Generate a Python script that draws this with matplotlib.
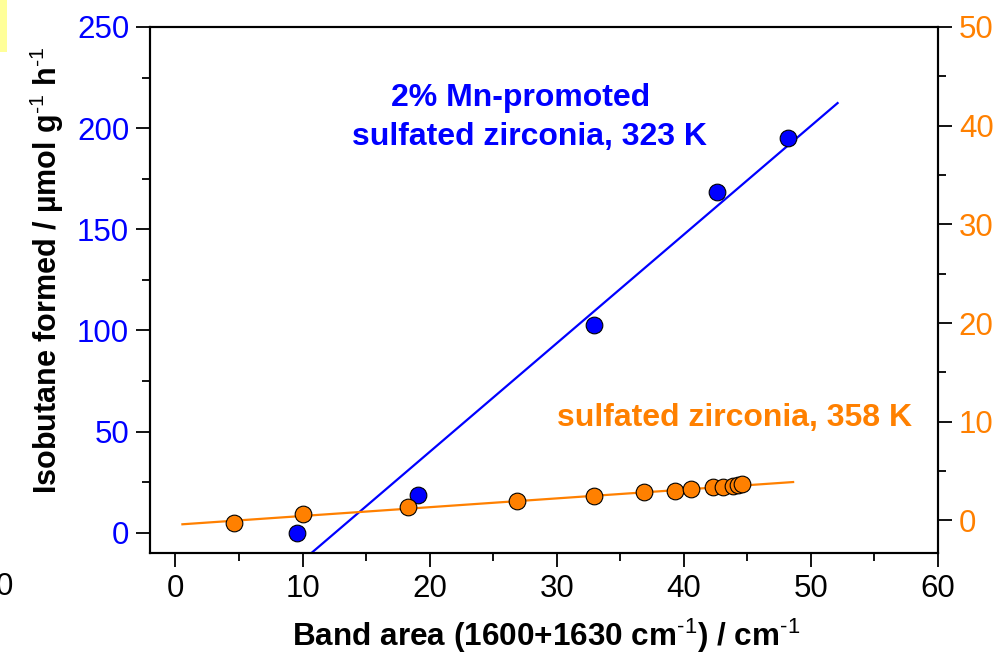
import numpy as np
import matplotlib
matplotlib.use("Agg")
import matplotlib.pyplot as plt
from matplotlib.ticker import MultipleLocator
from matplotlib.patches import Rectangle

plt.rcParams['font.family'] = ['Liberation Sans', 'DejaVu Sans']
plt.rcParams['mathtext.fontset'] = 'custom'
plt.rcParams['mathtext.rm'] = 'Liberation Sans'
plt.rcParams['mathtext.bf'] = 'Liberation Sans:bold'
plt.rcParams['mathtext.default'] = 'bf'

# Mn-promoted sulfated zirconia, 323 K (left axis)
mn_area = [9.6, 19.1, 32.9, 42.6, 48.2]
mn_rate = [0.0, 18.8, 102.5, 168.3, 195.0]
mn_fit_x = [10.7, 52.1]
mn_fit_y = [-10.0, 212.4]

# sulfated zirconia, 358 K (right axis)
sz_area = [4.6, 10.0, 18.3, 26.9, 32.9, 36.9, 39.3, 40.6, 42.3, 43.1, 43.9, 44.3, 44.6]
sz_rate = [-0.29, 0.62, 1.33, 2.00, 2.47, 2.85, 3.01, 3.18, 3.35, 3.42, 3.52, 3.59, 3.66]
sz_fit_x = [0.55, 48.6]
sz_fit_y = [-0.39, 3.89]

BLUE = '#0000FF'
ORANGE = '#FF8000'
W, H = 994, 658


def fx(px):
    return px / W


def fy(py):
    return 1 - py / H


fig = plt.figure(figsize=(9.94, 6.58), dpi=100)
ax = fig.add_axes([fx(150), fy(553), (938 - 150) / W, (553 - 27) / H])
ax2 = ax.twinx()

ax.plot(mn_fit_x, mn_fit_y, color=BLUE, lw=1.6, zorder=2)
ax.plot(mn_area, mn_rate, 'o', ms=12, mfc=BLUE, mec='black', mew=0.8, zorder=3)
ax2.plot(sz_fit_x, sz_fit_y, color=ORANGE, lw=1.6, zorder=2)
ax2.plot(sz_area, sz_rate, 'o', ms=12, mfc=ORANGE, mec='black', mew=0.8, zorder=3)

ax.set_xlim(-2, 60)
ax.set_ylim(-10, 250)
ax2.set_ylim(-3.3, 50)

ax.xaxis.set_major_locator(MultipleLocator(10))
ax.xaxis.set_minor_locator(MultipleLocator(5))
ax.yaxis.set_major_locator(MultipleLocator(50))
ax.yaxis.set_minor_locator(MultipleLocator(25))
ax2.yaxis.set_major_locator(MultipleLocator(10))
ax2.yaxis.set_minor_locator(MultipleLocator(5))

ax.tick_params(axis='x', which='major', direction='out', length=10, width=1.3,
               labelsize=22.5, pad=5)
ax.tick_params(axis='x', which='minor', direction='out', length=6, width=1.3)
ax.tick_params(axis='y', which='major', direction='out', length=10, width=1.3,
               labelsize=22.5, labelcolor=BLUE, pad=5)
ax.tick_params(axis='y', which='minor', direction='out', length=6, width=1.3)
ax2.tick_params(axis='y', which='major', direction='out', length=10, width=1.3,
                labelsize=22.5, labelcolor=ORANGE, pad=5)
ax2.tick_params(axis='y', which='minor', direction='out', length=6, width=1.3)
# short inward ticks along the top edge
ax2.tick_params(axis='x', which='both', top=True, bottom=False, direction='in',
                length=3, width=1.0, labeltop=False, labelbottom=False)
for a in (ax, ax2):
    for s in a.spines.values():
        s.set_linewidth(1.5)

fig.text(fx(521), fy(98), '2% Mn-promoted', color=BLUE, fontsize=23,
         fontweight='bold', ha='center', va='center')
fig.text(fx(529), fy(137), 'sulfated zirconia, 323 K', color=BLUE, fontsize=23,
         fontweight='bold', ha='center', va='center')
fig.text(fx(735), fy(418), 'sulfated zirconia, 358 K', color=ORANGE, fontsize=23,
         fontweight='bold', ha='center', va='center')

sup = r'$^{\text{-1}}$'
fig.text(fx(546), fy(636), 'Band area (1600+1630 cm' + sup + ') / cm' + sup,
         fontsize=22.7, fontweight='bold', ha='center', va='center')
fig.text(fx(47), fy(270), 'Isobutane formed / µmol g' + sup + ' h' + sup,
         fontsize=22, fontweight='bold', ha='center', va='center', rotation=90)

# stray tick label and marker at the left edge
fig.text(fx(13), fy(587), '0', fontsize=22.5, ha='right', va='center')
fig.patches.append(Rectangle((0, fy(52)), fx(7), 52 / H, transform=fig.transFigure,
                             facecolor='#FFFF99', edgecolor='none', zorder=0))

fig.savefig('out.png', dpi=100)
